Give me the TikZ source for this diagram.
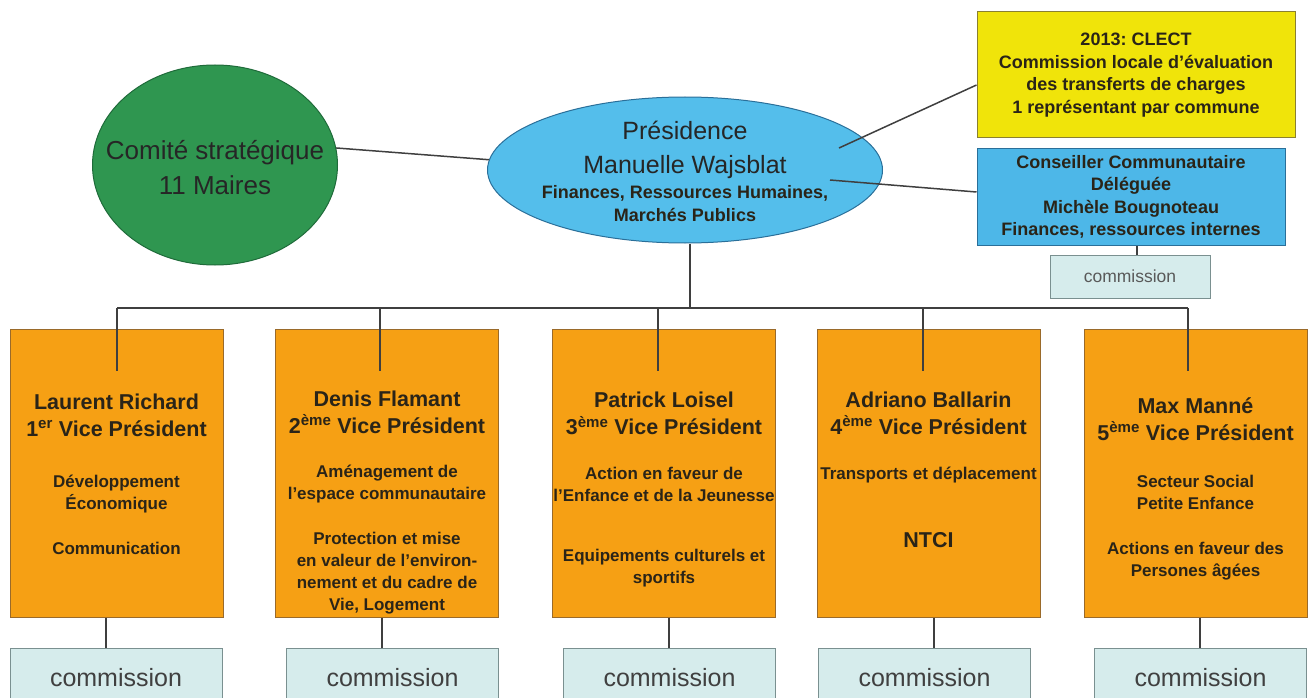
\documentclass[tikz,border=0pt]{standalone}
\usepackage{fontspec}
\setmainfont{Liberation Sans}
\frenchspacing
\usetikzlibrary{shapes.geometric}

\definecolor{comitegreen}{HTML}{2F9650}
\definecolor{greenedge}{HTML}{1F6B3A}
\definecolor{presblue}{HTML}{54BEEB}
\definecolor{delegblue}{HTML}{4DB7E8}
\definecolor{blueedge}{HTML}{2A6F99}
\definecolor{clectyellow}{HTML}{F0E40A}
\definecolor{yellowedge}{HTML}{8A8030}
\definecolor{vporange}{HTML}{F6A014}
\definecolor{orangeedge}{HTML}{9A6A2A}
\definecolor{comfill}{HTML}{D6ECEC}
\definecolor{comedge}{HTML}{7A9090}
\definecolor{linegrey}{HTML}{3F3F3F}
\definecolor{textdark}{HTML}{2A2418}

\begin{document}
\begin{tikzpicture}[x=1pt, y=-1pt,
    every node/.style={inner sep=0pt, align=center, text=textdark},
    conn/.style={draw=linegrey, line width=1.8pt},
    bigtext/.style={font=\fontsize{25}{34}\selectfont},
    boldtext/.style={font=\bfseries\fontsize{18}{22.5}\selectfont},
    nametext/.style={font=\bfseries\fontsize{21.5}{27}\selectfont},
    smalltext/.style={font=\bfseries\fontsize{17}{22}\selectfont},
    vpbox/.style={draw=orangeedge, fill=vporange, line width=1pt, minimum width=223pt, minimum height=288pt},
    combox/.style={draw=comedge, fill=comfill, line width=1pt, minimum width=212pt, minimum height=60pt,
        font=\fontsize{25}{30}\selectfont, text=black!75}]
    \useasboundingbox (0,0) rectangle (1309,698);

    % Draw the top row: comite, presidence, clect and delegate
    \node[ellipse, draw=greenedge, fill=comitegreen, line width=1pt, minimum width=245pt, minimum height=200pt] (comite) at (215,165) {};
    \node[font=\fontsize{26}{35}\selectfont, text=black!85] (comitetxt) at (215,167.5) {Comité stratégique\\11 Maires};
    \node[ellipse, draw=blueedge, fill=presblue, line width=1pt, minimum width=395pt, minimum height=146pt] (pres) at (685,170) {};
    \node[bigtext, text=black!85] (prestitle) at (685,150) {Présidence\\Manuelle Wajsblat};
    \node[boldtext] (presdomain) at (685,203.5) {Finances, Ressources Humaines,\\Marchés Publics};
    \node[draw=yellowedge, fill=clectyellow, line width=1pt, minimum width=318pt, minimum height=126pt, boldtext]
        (clect) at (1136,75) {2013: CLECT\\Commission locale d'évaluation\\des transferts de charges\\1 représentant par commune};
    \node[draw=blueedge, fill=delegblue, line width=1pt, minimum width=308pt, minimum height=97pt, boldtext]
        (deleg) at (1131,197) {Conseiller Communautaire\\Déléguée\\Michèle Bougnoteau\\Finances, ressources internes};
    \node[combox, minimum width=160pt, minimum height=43pt, font=\fontsize{17.5}{20}\selectfont, text=black!65]
        (delegcom) at (1130,276.5) {commission};

    % Draw the connections of the top row
    \coordinate (presclect) at (839,148);
    \coordinate (presdeleg) at (830,180);
    \draw[conn, line width=1.5pt] (comite.8) -- (pres.177);
    \draw[conn, line width=1.5pt] (presclect) -- ([yshift=-10pt]clect.west);
    \draw[conn, line width=1.5pt] (presdeleg) -- ([yshift=5pt]deleg.west);
    \draw[conn, line width=1.5pt] ([xshift=6pt]deleg.south) -- ([xshift=6pt]deleg.south |- delegcom.north);

    % Draw the vice presidents
    \node[vpbox, minimum width=213pt] (vp1) at (116.5,473) {};
    \node[vpbox] (vp2) at (387,473) {};
    \node[vpbox] (vp3) at (664,473) {};
    \node[vpbox] (vp4) at (928.5,473) {};
    \node[vpbox] (vp5) at (1195.5,473) {};

    \node[nametext] (vp1name) at (116.5,415) {Laurent Richard\\1\textsuperscript{er} Vice Président};
    \node[smalltext] (vp1txt) at (116.5,515) {Développement\\Économique\\[23pt]Communication};

    \node[nametext] (vp2name) at (387,412) {Denis Flamant\\2\textsuperscript{ème} Vice Président};
    \node[smalltext] (vp2txt) at (387,540) {Aménagement de\\l'espace communautaire\\[23pt]Protection et mise\\en valeur de l'environ-\\nement et du cadre de\\Vie, Logement};

    \node[nametext] (vp3name) at (664,413.5) {Patrick Loisel\\3\textsuperscript{ème} Vice Président};
    \node[smalltext] (vp3txt) at (664,527.5) {Action en faveur de\\l'Enfance et de la Jeunesse\\[38pt]Equipements culturels et\\sportifs};

    \node[nametext] (vp4name) at (928.5,413) {Adriano Ballarin\\4\textsuperscript{ème} Vice Président};
    \node[smalltext] (vp4txt) at (928.5,475) {Transports et déplacement};
    \node[nametext] (vp4ntci) at (928.5,540) {NTCI};

    \node[nametext] (vp5name) at (1195.5,419) {Max Manné\\5\textsuperscript{ème} Vice Président};
    \node[smalltext] (vp5txt) at (1195.5,527.5) {Secteur Social\\Petite Enfance\\[23pt]Actions en faveur des\\Persones âgées};

    % Draw the commissions
    \foreach \i/\x in {1/116,2/392.5,3/669.5,4/924.5,5/1200.5} {
        \node[combox] (com\i) at (\x,678) {commission};
    }

    % Draw the bus from the presidence to the vice presidents
    \coordinate (busL) at (117,308);
    \coordinate (busR) at (1188,308);
    \draw[conn, line width=2.6pt] (busL) -- (busR);
    \draw[conn] ([xshift=5pt]pres.south) -- ([xshift=5pt]pres.south |- busL);
    \foreach \i/\x in {1/117,2/380,3/658,4/923,5/1188} {
        \coordinate (drop\i) at (\x,308);
        \coordinate (dropend\i) at (\x,371);
        \draw[conn] (drop\i) -- (dropend\i);
    }

    % Draw the connections down to the commissions
    \foreach \i/\dx in {1/-10.5,2/-5,3/5,4/5.5,5/4.5} {
        \draw[conn] ([xshift=\dx pt]vp\i.south) -- ([xshift=\dx pt]vp\i.south |- com\i.north);
    }
\end{tikzpicture}
\end{document}
